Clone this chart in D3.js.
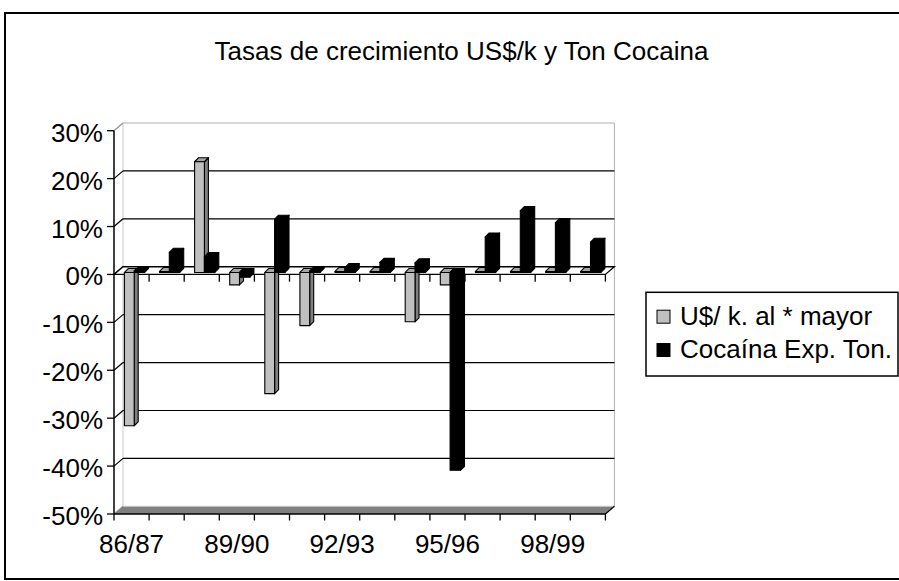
<!DOCTYPE html>
<html>
<head>
<meta charset="utf-8">
<script src="https://cdn.jsdelivr.net/npm/d3@7"></script>
<style>
  html, body { margin: 0; padding: 0; background: #fff; }
  text { font-family: "Liberation Sans", Arial, sans-serif; }
</style>
</head>
<body>
<script>
// ---------- data ----------
const categories = ["86/87","87/88","88/89","89/90","90/91","91/92","92/93",
                    "93/94","94/95","95/96","96/97","97/98","98/99","99/00"];
const usPerKilo = [-32.0, 0.2, 23.1, -2.6, -25.3, -11.1, 0.2, 0.2, -10.3, -2.6, 0.2, 0.2, 0.2, 0.2];
const cocaTons  = [0.3, 4.2, 3.3, -1.0, 11.1, 0.3, 1.0, 2.1, 2.0, -41.3, 7.4, 12.9, 10.4, 6.3];
const yTicks = [30, 20, 10, 0, -10, -20, -30, -40, -50];
const xLabelCats = ["86/87", "89/90", "92/93", "95/96", "98/99"];
const seriesNames = ["U$/ k. al * mayor", "Cocaína Exp. Ton."];
const title = "Tasas de crecimiento US$/k y Ton Cocaina";

// ---------- layout ----------
const W = 899, H = 581;
const DX = 9, DY = -7.7;       // wall depth
const BDX = 4, BDY = -4;       // bar depth
const BOFF = -2;               // bar plane vertical offset
const svg = d3.select("body").append("svg").attr("width", W).attr("height", H);

const x = d3.scaleBand().domain(categories).range([114, 605.4]).padding(0);
const y = d3.scaleLinear().domain([-50, 30]).range([514, 130.7]);
const x0 = x.range()[0], x1 = x.range()[1];
const fontSize = 26;

// outer border
svg.append("rect").attr("x", 5).attr("y", 13).attr("width", 905).attr("height", 566)
  .attr("fill", "none").attr("stroke", "#000").attr("stroke-width", 2);

// title
svg.append("text").attr("x", 461.5).attr("y", 60).attr("text-anchor", "middle")
  .attr("font-size", fontSize).attr("fill", "#000").text(title);

// back wall outline
const wallTop = y(30) + DY, wallBot = y(-50) + DY;
svg.append("path")
  .attr("d", `M${x0},${y(30)} L${x0 + DX},${wallTop} L${x1 + DX},${wallTop} L${x1 + DX},${wallBot}`)
  .attr("fill", "none").attr("stroke", "#b0b0b0").attr("stroke-width", 1);
svg.append("line").attr("x1", x0 + DX).attr("x2", x0 + DX).attr("y1", wallTop).attr("y2", wallBot)
  .attr("stroke", "#c8c8c8").attr("stroke-width", 1);

// gridlines on back wall + side wall
yTicks.filter(t => t < 30 && t > -50).forEach(t => {
  svg.append("line").attr("x1", x0 + DX).attr("x2", x1 + DX)
    .attr("y1", y(t) + DY).attr("y2", y(t) + DY)
    .attr("stroke", "#000").attr("stroke-width", 1.2);
});
yTicks.forEach(t => {
  svg.append("line").attr("x1", x0).attr("x2", x0 + DX)
    .attr("y1", y(t)).attr("y2", y(t) + DY)
    .attr("stroke", t === 30 || t === -50 ? "#999" : "#000").attr("stroke-width", 1.2);
});

// floor
svg.append("polygon")
  .attr("points", [[x0, y(-50)], [x1, y(-50)], [x1 + DX, y(-50) + DY], [x0 + DX, y(-50) + DY]].map(p => p.join(",")).join(" "))
  .attr("fill", "#808080").attr("stroke", "none");
svg.append("line").attr("x1", x0 + DX).attr("x2", x1 + DX).attr("y1", y(-50) + DY).attr("y2", y(-50) + DY)
  .attr("stroke", "#c8c8c8").attr("stroke-width", 1);
svg.append("line").attr("x1", x1).attr("x2", x1 + DX).attr("y1", y(-50)).attr("y2", y(-50) + DY)
  .attr("stroke", "#000").attr("stroke-width", 1.2);

// zero plane (category axis at 0)
svg.append("path")
  .attr("d", `M${x0},${y(0)} L${x1},${y(0)} L${x1 + DX},${y(0) + DY} L${x0 + DX},${y(0) + DY} Z`)
  .attr("fill", "#fff").attr("stroke", "#000").attr("stroke-width", 1.3);

// bars
const barW = [9.8, 10.4];
const offsets = [10.4, 20.2];
const colors = [
  { front: "#c0c0c0", top: "#a6a6a6", side: "#808080" },
  { front: "#000", top: "#000", side: "#000" }
];
const series = [usPerKilo, cocaTons];
const gBars = svg.append("g");
categories.forEach((c, i) => {
  series.forEach((vals, s) => {
    const v = vals[i];
    const w = barW[s];
    const bx = x(c) + offsets[s];
    const yT = y(Math.max(0, v)) + BOFF;
    const yB = y(Math.min(0, v)) + BOFF;
    const col = colors[s];
    const g = gBars.append("g").attr("stroke", "#000").attr("stroke-width", 1.1).attr("stroke-linejoin", "round");
    g.append("polygon")
      .attr("points", [[bx + w, yT], [bx + w + BDX, yT + BDY], [bx + w + BDX, yB + BDY], [bx + w, yB]].map(p => p.join(",")).join(" "))
      .attr("fill", col.side);
    g.append("polygon")
      .attr("points", [[bx, yT], [bx + w, yT], [bx + w + BDX, yT + BDY], [bx + BDX, yT + BDY]].map(p => p.join(",")).join(" "))
      .attr("fill", col.top);
    g.append("rect").attr("x", bx).attr("y", yT).attr("width", w).attr("height", Math.max(0.5, yB - yT))
      .attr("fill", col.front);
  });
});

// ticks at 0 plane
const boundaries = categories.map(c => x(c)).concat([x1]);
boundaries.slice(1).forEach(b => {
  svg.append("line").attr("x1", b).attr("x2", b).attr("y1", y(0)).attr("y2", y(0) + 7.2)
    .attr("stroke", "#000").attr("stroke-width", 1.3);
});

// y axis
svg.append("line").attr("x1", x0).attr("x2", x0).attr("y1", y(30)).attr("y2", y(-50))
  .attr("stroke", "#000").attr("stroke-width", 1.5);
yTicks.forEach(t => {
  svg.append("line").attr("x1", x0 - 7).attr("x2", x0).attr("y1", y(t)).attr("y2", y(t))
    .attr("stroke", "#000").attr("stroke-width", 1.3);
  svg.append("text").attr("x", 103).attr("y", y(t) + 11).attr("text-anchor", "end")
    .attr("font-size", fontSize).attr("fill", "#000").text(t + "%");
});

// bottom category axis
svg.append("line").attr("x1", x0).attr("x2", x1).attr("y1", y(-50)).attr("y2", y(-50))
  .attr("stroke", "#000").attr("stroke-width", 1.5);
boundaries.forEach(b => {
  svg.append("line").attr("x1", b).attr("x2", b).attr("y1", y(-50)).attr("y2", y(-50) + 6.5)
    .attr("stroke", "#000").attr("stroke-width", 1.3);
});
xLabelCats.forEach(c => {
  svg.append("text").attr("x", x(c) + x.bandwidth() / 2).attr("y", 553).attr("text-anchor", "middle")
    .attr("font-size", fontSize).attr("fill", "#000").text(c);
});

// legend
svg.append("rect").attr("x", 646).attr("y", 292.3).attr("width", 252).attr("height", 83.7)
  .attr("fill", "#fff").attr("stroke", "#000").attr("stroke-width", 1.5);
const legY = [316.7, 350];
seriesNames.forEach((n, s) => {
  svg.append("rect").attr("x", 657).attr("y", legY[s] - 6.5).attr("width", 13).attr("height", 13)
    .attr("fill", s === 0 ? "#c0c0c0" : "#000").attr("stroke", "#000").attr("stroke-width", 1);
  svg.append("text").attr("x", 680).attr("y", legY[s] + 8).attr("font-size", fontSize)
    .attr("fill", "#000").text(n);
});
</script>
</body>
</html>
